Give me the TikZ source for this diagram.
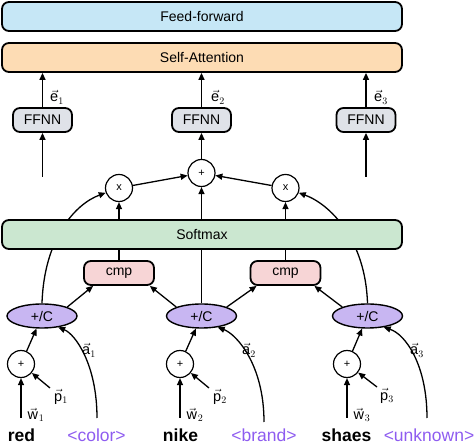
\documentclass[tikz,border=0pt]{standalone}
\usepackage{fontspec}
\setmainfont{Liberation Sans}
\usetikzlibrary{arrows.meta,shapes.geometric,backgrounds}
\definecolor{ffblue}{HTML}{C6E7F6}
\definecolor{saorange}{HTML}{FDDCB4}
\definecolor{smgreen}{HTML}{CBE7D0}
\definecolor{ffgray}{HTML}{DFE2E8}
\definecolor{cmppink}{HTML}{F7D5D6}
\definecolor{ellpurple}{HTML}{C8B6F2}
\definecolor{tagpurple}{HTML}{8E5CF0}
\begin{document}
\begin{tikzpicture}[x=1pt,y=1pt,
  box/.style={draw=black, line width=1.8pt, rounded corners=7pt, font=\fontsize{14}{14}\selectfont, inner sep=0pt},
  widebox/.style={box, minimum width=400pt, minimum height=29pt},
  ffnnbox/.style={box, fill=ffgray, minimum width=59pt, minimum height=24pt},
  cmpbox/.style={box, fill=cmppink, minimum width=70pt, minimum height=24pt},
  opc/.style={circle, draw=black, line width=1.2pt, fill=white, minimum size=27pt, inner sep=0pt, font=\fontsize{11}{11}\selectfont},
  ell/.style={ellipse, draw=black, line width=1.4pt, fill=ellpurple, minimum width=70pt, minimum height=24pt, inner sep=0pt, font=\fontsize{14}{14}\selectfont},
  conn/.style={line width=1.3pt, -{Triangle[length=7pt,width=6pt]}},
  word/.style={font=\fontsize{17.5}{17.5}\selectfont\bfseries, anchor=base, inner sep=0pt},
  tag/.style={font=\fontsize{17.5}{17.5}\selectfont, text=tagpurple, anchor=base, inner sep=0pt},
  lab/.style={font=\fontsize{14.5}{14.5}\selectfont, inner sep=0pt}
]
\useasboundingbox (0,0) rectangle (474,444);

% top boxes
\node[widebox, fill=ffblue] (ff) at (202,427.5) {Feed-forward};
\node[widebox, fill=saorange] (sa) at (202,386.5) {Self-Attention};

% FFNN
\node[ffnnbox] (ffnn1) at (42.5,324) {FFNN};
\node[ffnnbox] (ffnn2) at (201.5,324) {FFNN};
\node[ffnnbox] (ffnn3) at (366,324) {FFNN};

% attention combination circles
\node[opc] (plusT) at (201.5,271) {+};
\node[opc] (x1) at (119,256) {x};
\node[opc] (x2) at (285.5,256) {x};

% cmp boxes
\node[cmpbox] (cmp1) at (119,171) {cmp};
\node[cmpbox] (cmp2) at (285.5,171) {cmp};

% +/C ellipses
\node[ell] (e1) at (42,128) {+/C};
\node[ell] (e2) at (201.5,128) {+/C};
\node[ell] (e3) at (367.5,128) {+/C};

% small plus circles
\node[opc] (pc1) at (21,80) {+};
\node[opc] (pc2) at (180,80) {+};
\node[opc] (pc3) at (347,80) {+};

% words
\node[word] (red) at (21.5,2.5) {red};
\node[tag] (color) at (96.5,2.5) {<color>};
\node[word] (nike) at (180.5,2.5) {nike};
\node[tag] (brand) at (264,2.5) {<brand>};
\node[word] (shaes) at (346.5,2.5) {shaes};
\node[tag] (unknown) at (429,2.5) {<unknown>};

% free ends
\coordinate (w1s) at (21,26);
\coordinate (w2s) at (180,26);
\coordinate (w3s) at (347,26);
\coordinate (p1s) at (50,56);
\coordinate (p2s) at (209,56);
\coordinate (p3s) at (377,57);
\coordinate (a1s) at (97,26);
\coordinate (a2s) at (264,22);
\coordinate (a3s) at (427,26);
\coordinate (f1s) at (42.5,267);
\coordinate (f3s) at (366,267);

% Softmax drawn over the connectors that pass behind it
\begin{pgfonlayer}{background}
  \draw[conn] (cmp1.north) -- (x1.south);
  \draw[conn] (cmp2.north) -- (x2.south);
  \draw[conn] (e2.north) -- (plusT.south);
  \draw[conn] (e1.north) .. controls (44,205) and (75,240) .. (x1);
  \draw[conn] (e3.north) .. controls (365.5,205) and (329.5,240) .. (x2);
\end{pgfonlayer}
\node[widebox, fill=smgreen] (sm) at (202,209.5) {Softmax};

% bottom inputs
\foreach \i in {1,2,3} {
  \draw[conn] (w\i s) -- (pc\i);
  \draw[conn] (p\i s) -- (pc\i);
  \draw[conn] (pc\i) -- (e\i);
}
\draw[conn] (a1s) .. controls (97,80) and (75,110) .. (e1.-35);
\draw[conn] (a2s) .. controls (264,80) and (236,110) .. (e2.-35);
\draw[conn] (a3s) .. controls (427,80) and (405,110) .. (e3.-35);

% ellipses to cmp
\draw[conn] (e1.north east) -- ([xshift=10pt]cmp1.south west);
\draw[conn] (e2.north west) -- ([xshift=-5pt]cmp1.south east);
\draw[conn] (e2.north east) -- ([xshift=7pt]cmp2.south west);
\draw[conn] (e3.north west) -- ([xshift=-7pt]cmp2.south east);

% x circles to plus
\draw[conn] (x1) -- (plusT);
\draw[conn] (x2) -- (plusT);

% into FFNN
\draw[conn] (f1s) -- (ffnn1.south);
\draw[conn] (plusT) -- (ffnn2);
\draw[conn] (f3s) -- (ffnn3.south);

% FFNN to self-attention
\draw[conn] (ffnn1.north) -- (ffnn1.north |- sa.south);
\draw[conn] (ffnn2.north) -- (ffnn2.north |- sa.south);
\draw[conn] (ffnn3.north) -- (ffnn3.north |- sa.south);

% labels
\node[lab] (le1) at (57,347) {$\vec{\mathrm{e}}_1$};
\node[lab] (le2) at (218,347) {$\vec{\mathrm{e}}_2$};
\node[lab] (le3) at (381,347) {$\vec{\mathrm{e}}_3$};
\node[lab] (la1) at (89,94) {$\vec{\mathrm{a}}_1$};
\node[lab] (la2) at (249,94) {$\vec{\mathrm{a}}_2$};
\node[lab] (la3) at (417,94) {$\vec{\mathrm{a}}_3$};
\node[lab] (lp1) at (61,47) {$\vec{\mathrm{p}}_1$};
\node[lab] (lp2) at (220,47) {$\vec{\mathrm{p}}_2$};
\node[lab] (lp3) at (387,48) {$\vec{\mathrm{p}}_3$};
\node[lab] (lw1) at (36,29) {$\vec{\mathrm{w}}\mkern1mu_1$};
\node[lab] (lw2) at (195,29) {$\vec{\mathrm{w}}\mkern1mu_2$};
\node[lab] (lw3) at (362,29) {$\vec{\mathrm{w}}\mkern1mu_3$};
\end{tikzpicture}
\end{document}
